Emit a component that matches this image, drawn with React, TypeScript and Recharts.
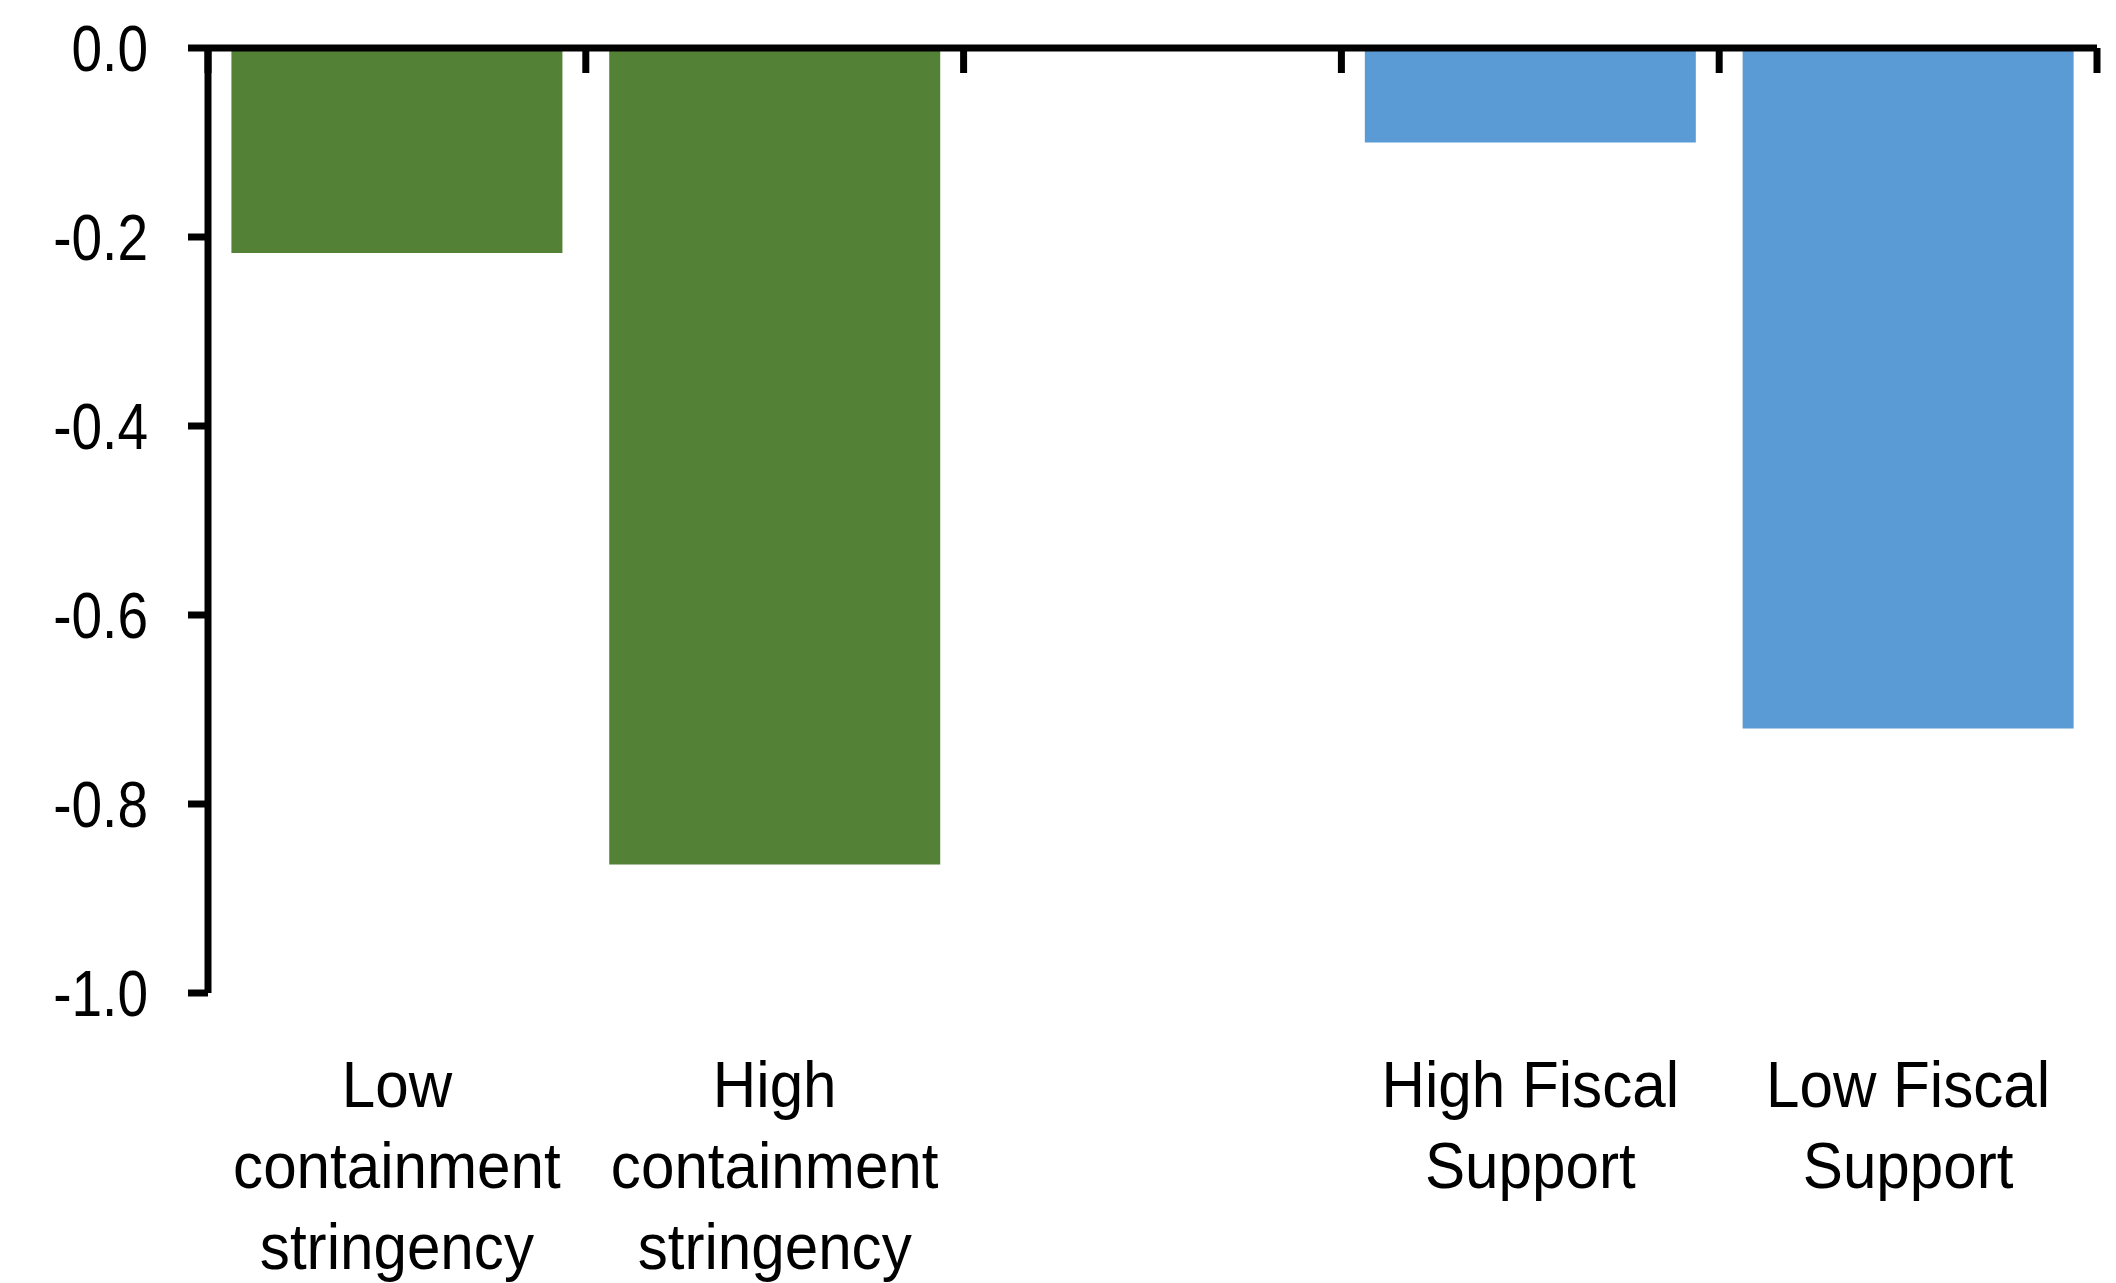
import { BarChart, Bar, XAxis, YAxis, Cell } from "recharts";

const categories = [
  "Low\ncontainment\nstringency",
  "High\ncontainment\nstringency",
  "",
  "High Fiscal\nSupport",
  "Low Fiscal\nSupport",
];
const values = [-0.217, -0.864, null, -0.1, -0.72];
const barColors = ["#538135", "#538135", "#538135", "#5B9BD5", "#5B9BD5"];
const yTicks = [-1, -0.8, -0.6, -0.4, -0.2, 0];

const data = categories.map((name, i) => ({ name, value: values[i] }));

const FONT = "'Liberation Sans', Arial, sans-serif";
const FS = 64;

function YTick({ x, y, payload }: any) {
  return (
    <text
      transform={`translate(${x},${y}) scale(0.86,1)`}
      textAnchor="end"
      dy="0.36em"
      fontFamily={FONT}
      fontSize={FS}
      fill="#000"
    >
      {Number(payload.value).toFixed(1)}
    </text>
  );
}

function CatTick({ x, y, payload }: any) {
  const lines = String(payload.value).split("\n").filter(Boolean);
  return (
    <text
      transform={`translate(${x},${y}) scale(0.94,1)`}
      textAnchor="middle"
      fontFamily={FONT}
      fontSize={FS}
      fill="#000"
    >
      {lines.map((l, i) => (
        <tspan key={i} x={0} y={114 + i * 81}>
          {l}
        </tspan>
      ))}
    </text>
  );
}

// tick marks between categories, hanging down from the zero line
function EdgeTick({ x, y, width, index, visibleTicksCount }: any) {
  const band = width / visibleTicksCount;
  const left = x - band / 2;
  const last = index === visibleTicksCount - 1;
  return (
    <g>
      <line x1={left} x2={left} y1={y} y2={y + 25} stroke="#000" strokeWidth={7} />
      {last && <line x1={x + band / 2} x2={x + band / 2} y1={y} y2={y + 25} stroke="#000" strokeWidth={7} />}
    </g>
  );
}

export default function App() {
  return (
    <div style={{ position: "absolute", left: 0, top: 0, width: 2116, height: 1283, background: "#fff" }}>
      <BarChart
        width={2116}
        height={1283}
        data={data}
        margin={{ top: 48, right: 19, left: 1, bottom: 0 }}
        barCategoryGap="6.2%"
      >
        <XAxis
          dataKey="name"
          axisLine={false}
          tickLine={false}
          tickSize={0}
          tickMargin={0}
          height={290}
          interval={0}
          tick={<CatTick />}
        />
        <XAxis
          xAxisId="edges"
          dataKey="name"
          orientation="top"
          mirror
          height={1}
          interval={0}
          tickLine={false}
          tickSize={0}
          tickMargin={0}
          tick={<EdgeTick />}
          axisLine={{ stroke: "#000", strokeWidth: 7 }}
        />
        <YAxis
          domain={[-1, 0]}
          ticks={yTicks}
          width={207}
          tickSize={20}
          tickMargin={40}
          interval={0}
          tick={<YTick />}
          axisLine={{ stroke: "#000", strokeWidth: 7 }}
          tickLine={{ stroke: "#000", strokeWidth: 7 }}
        />
        <Bar dataKey="value" isAnimationActive={false}>
          {data.map((d, i) => (
            <Cell key={i} fill={barColors[i]} />
          ))}
        </Bar>
      </BarChart>
    </div>
  );
}
